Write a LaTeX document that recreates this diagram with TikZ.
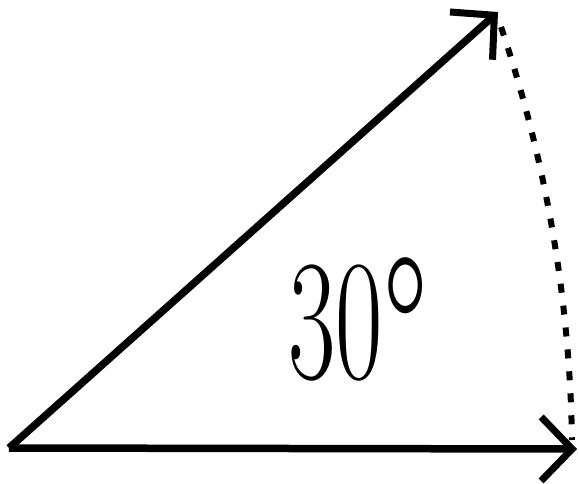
\documentclass[tikz,border=0pt]{standalone}
\usepackage{fontspec}
\usetikzlibrary{arrows.meta}
\tikzset{
  vec/.style={line width=7.5pt, line cap=butt, -{Straight Barb[length=31pt,width=64pt,line width=7pt]}},
  dotline/.style={line width=6pt, dash pattern=on 9pt off 13pt},
  anglelabel/.style={anchor=base, inner sep=0pt, font=\rmfamily}
}
\begin{document}
\begin{tikzpicture}[x=1pt,y=-1pt]
\useasboundingbox (0,0) rectangle (579,483);
\coordinate (O) at (9,448);
\coordinate (A) at (498,12);
\coordinate (B) at (577,449);
\coordinate (D1) at (501,27);
\coordinate (D2) at (572,440);
\draw[vec] (O) -- (A);
\draw[vec] (O) -- (B);
\draw[dotline] (D1) .. controls (545.7,159.7) and (569.7,298) .. (D2);
\node[anglelabel] (lbl) at (358,378) {\fontsize{172}{172}\selectfont\scalebox{0.6}[1]{30\raisebox{-26pt}{\scalebox{1.25}{°}}}};
\end{tikzpicture}
\end{document}
